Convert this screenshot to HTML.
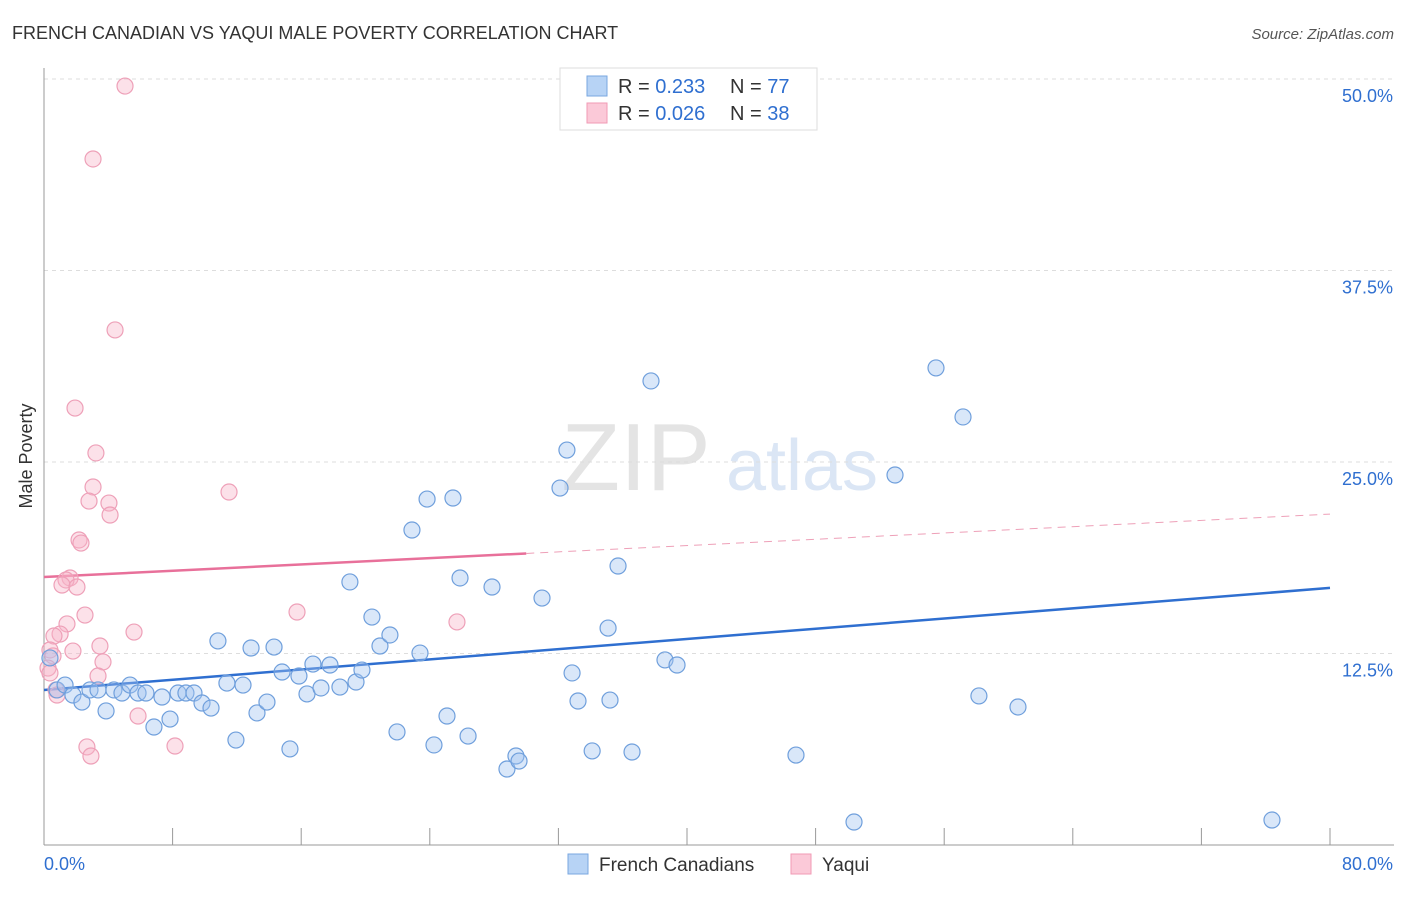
<!DOCTYPE html>
<html><head><meta charset="utf-8"><style>
body{margin:0;background:#fff;font-family:"Liberation Sans",sans-serif}
svg text{font-family:"Liberation Sans",sans-serif}
</style></head><body>
<svg id="chart" width="1406" height="892" xmlns="http://www.w3.org/2000/svg">
<text x="12" y="39" font-size="18" fill="#333">FRENCH CANADIAN VS YAQUI MALE POVERTY CORRELATION CHART</text>
<text x="1394" y="39" font-size="15" fill="#555" font-style="italic" text-anchor="end">Source: ZipAtlas.com</text>
<text x="32" y="456" font-size="18" fill="#333" text-anchor="middle" transform="rotate(-90 32 456)">Male Poverty</text>
<g><text x="636" y="490" font-size="96" fill="#e4e4e4" font-family="Liberation Serif" text-anchor="middle">ZIP</text><text x="802" y="490" font-size="72" fill="#dbe6f5" text-anchor="middle">atlas</text></g>
<g id="grid"></g><g id="axes"></g><g id="lines"></g><g id="pts"></g>
<g>
<rect x="560" y="68" width="257" height="62" fill="#fff" stroke="#ddd"/>
<rect x="587" y="76" width="20" height="20" fill="#b7d3f5" stroke="#7aa7e0"/>
<rect x="587" y="103" width="20" height="20" fill="#fbc9d8" stroke="#f09ab5"/>
<text x="618" y="93" font-size="20" fill="#333">R = <tspan fill="#2f6fd0">0.233</tspan><tspan x="730">N = </tspan><tspan fill="#2f6fd0">77</tspan></text>
<text x="618" y="120" font-size="20" fill="#333">R = <tspan fill="#2f6fd0">0.026</tspan><tspan x="730">N = </tspan><tspan fill="#2f6fd0">38</tspan></text>
</g>
<g>
<rect x="568" y="854" width="20" height="20" fill="#b7d3f5" stroke="#7aa7e0"/>
<text x="599" y="871" font-size="19" fill="#333">French Canadians</text>
<rect x="791" y="854" width="20" height="20" fill="#fbc9d8" stroke="#f09ab5"/>
<text x="822" y="871" font-size="19" fill="#333">Yaqui</text>
</g>
</svg>
<script>
const yTicks=[12.5,25,37.5,50];
const yTickLabels=["12.5%","25.0%","37.5%","50.0%"];
const xTickLabels=["0.0%","80.0%"];
const blueX=[0.81,1.31,1.80,2.36,2.86,3.36,3.86,4.35,4.85,5.35,5.85,6.34,6.84,7.34,7.84,8.34,8.83,9.33,9.83,10.39,10.82,11.38,11.94,12.38,12.88,13.25,13.87,14.31,14.81,15.30,15.86,16.36,16.73,17.23,17.79,18.41,19.03,19.41,19.78,20.40,20.90,21.52,21.96,22.89,23.39,23.83,24.26,25.07,25.44,25.88,26.38,27.87,28.80,29.36,29.55,30.98,32.10,32.53,32.85,33.22,34.10,35.09,35.21,35.71,36.58,37.76,38.63,39.38,46.78,50.39,52.94,55.49,57.17,58.16,60.59,76.39,0.37];
const blueY=[10.12,10.44,9.79,9.33,10.12,10.12,8.75,10.12,9.92,10.44,9.92,9.92,7.70,9.66,8.22,9.92,9.92,9.92,9.27,8.94,13.32,10.57,6.85,10.44,12.86,8.62,9.33,12.92,11.29,6.27,11.03,9.86,11.81,10.25,11.75,10.31,17.17,10.64,11.42,14.88,12.99,13.71,7.38,20.56,12.53,22.58,6.53,8.42,22.65,17.43,7.11,16.84,4.96,5.81,5.48,16.12,23.30,25.78,11.23,9.40,6.14,14.16,9.46,18.21,6.07,30.29,12.08,11.75,5.87,1.50,24.15,31.14,27.94,9.73,9.01,1.63,12.21];
const pinkX=[5.04,3.05,4.42,1.93,3.23,3.05,2.80,4.04,4.11,11.51,2.18,2.30,1.62,1.37,1.12,2.05,2.55,15.74,25.69,1.43,1.00,0.62,5.60,3.48,1.80,0.37,0.56,3.67,0.25,0.37,3.36,0.81,5.85,2.67,2.92,8.15,0.75];
const pinkY=[49.54,44.78,33.62,28.52,25.59,23.37,22.45,22.32,21.54,23.04,19.91,19.71,17.43,17.30,16.97,16.84,15.01,15.21,14.56,14.43,13.77,13.64,13.90,12.99,12.66,12.73,12.34,11.95,11.55,11.23,11.03,9.79,8.42,6.40,5.81,6.46,10.12];
const blueTrend=[10.12,16.78];
const pinkTrend=[17.49,21.6];
const NS="http://www.w3.org/2000/svg";
const X=v=>44+v*16.075, Y=v=>845-v*15.32;
function mk(t,a,p){const e=document.createElementNS(NS,t);for(const k in a)e.setAttribute(k,a[k]);p.appendChild(e);return e;}
const grid=document.getElementById('grid'),axes=document.getElementById('axes'),lines=document.getElementById('lines'),pts=document.getElementById('pts');
yTicks.forEach((v,i)=>{
 const l=mk('line',{x1:44,x2:1394,y1:Y(v),y2:Y(v),stroke:'#ddd','stroke-dasharray':'4 4'},grid);
 
 
 const t=mk('text',{x:1393,y:Y(v)+23,'font-size':18,fill:'#2f6fd0','text-anchor':'end'},axes);t.textContent=yTickLabels[i];
 
 
});
const ax=mk('line',{x1:44,x2:1394,y1:845,y2:845,stroke:'#999'},axes);


const ay=mk('line',{x1:44,x2:44,y1:68,y2:845,stroke:'#999'},axes);


for(let i=0;i<=10;i++){const tk=mk('line',{x1:X(i*8),x2:X(i*8),y1:828,y2:845,stroke:'#999'},axes);
 
 }
[[0,'start',44],[80,'end',1393]].forEach((d,i)=>{const t=mk('text',{x:d[2],y:870,'font-size':18,fill:'#2f6fd0','text-anchor':d[1]},axes);t.textContent=xTickLabels[i];
 
 });
const py=x=>pinkTrend[0]+(pinkTrend[1]-pinkTrend[0])*x/80;
const l1=mk('line',{x1:X(0),y1:Y(blueTrend[0]),x2:X(80),y2:Y(blueTrend[1]),stroke:'#2f6fd0','stroke-width':2.5},lines);


const l2=mk('line',{x1:X(0),y1:Y(py(0)),x2:X(30),y2:Y(py(30)),stroke:'#e8709a','stroke-width':2.5},lines);


const l3=mk('line',{x1:X(30),y1:Y(py(30)),x2:X(80),y2:Y(py(80)),stroke:'#eea0b8','stroke-width':1,'stroke-dasharray':'8 6'},lines);


pinkX.forEach((x,i)=>{const c=mk('circle',{cx:X(x),cy:Y(pinkY[i]),r:8,fill:'rgba(248,180,200,0.4)',stroke:'#eea0b8','stroke-width':1.2},pts);
 
 });
blueX.forEach((x,i)=>{const c=mk('circle',{cx:X(x),cy:Y(blueY[i]),r:8,fill:'rgba(160,195,240,0.4)',stroke:'#6f9fdc','stroke-width':1.2},pts);
 
 });
</script>
</body></html>
